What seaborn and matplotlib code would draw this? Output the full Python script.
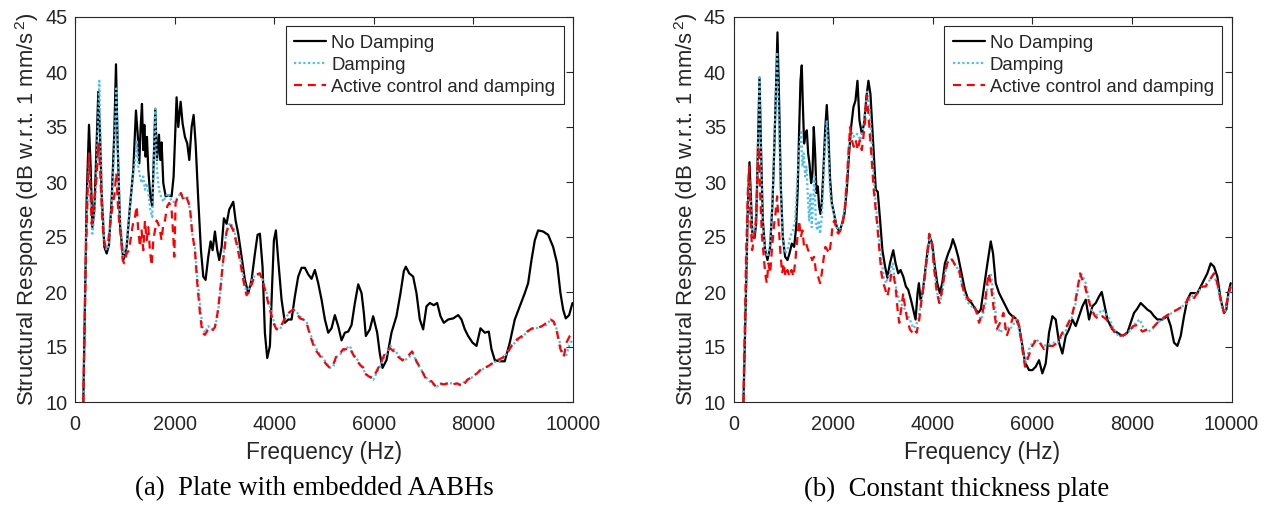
import numpy as np
import pandas as pd
import seaborn as sns
import matplotlib
matplotlib.use("Agg")
import matplotlib.pyplot as plt

# ---------------- data (Hz, dB) ----------------
a_nd = [(167,10),(234,28.4),(281,35.2),(314,31.4),(348,25.9),(388,27.4),(421,31.7),(468,38.2),(502,34.4),(535,29.0),(589,24.1),(636,23.5),(682,24.3),(736,28.4),(789,34.4),(823,40.7),(856,33.5),(903,26.2),(970,22.9),(1037,24.1),(1104,27.8),(1171,31.1),(1224,36.5),(1258,34.4),(1291,31.7),(1318,35.0),(1345,37.1),(1371,32.9),(1392,35.2),(1418,32.3),(1445,34.1),(1472,31.1),(1512,28.7),(1552,27.8),(1586,32.9),(1612,36.6),(1646,32.0),(1686,34.3),(1713,32.0),(1739,33.6),(1773,29.9),(1820,28.7),(1873,28.8),(1940,28.7),(1980,30.5),(2007,33.8),(2040,37.7),(2074,35.0),(2121,37.3),(2161,35.3),(2208,34.1),(2254,33.5),(2295,32.0),(2342,35.0),(2382,36.1),(2422,33.5),(2475,28.4),(2529,23.8),(2576,21.4),(2622,21.1),(2676,23.2),(2723,24.6),(2763,23.8),(2810,25.5),(2857,23.8),(2897,22.9),(2944,24.1),(2990,26.7),(3044,26.2),(3097,27.5),(3178,28.2),(3225,26.5),(3278,25.3),(3345,23.2),(3412,21.1),(3479,19.9),(3546,21.1),(3613,23.5),(3666,25.2),(3713,25.3),(3766,22.3),(3813,16.3),(3860,14.0),(3914,15.1),(3960,20.8),(3994,24.7),(4034,25.6),(4081,22.9),(4148,19.3),(4215,17.2),(4282,17.5),(4349,17.5),(4415,19.6),(4482,21.4),(4549,22.2),(4616,22.2),(4683,21.6),(4750,21.2),(4817,22.0),(4884,20.8),(4951,19.3),(5018,17.5),(5085,16.3),(5151,16.7),(5218,17.9),(5285,16.9),(5352,15.6),(5419,16.3),(5486,16.4),(5553,17.0),(5620,19.0),(5687,20.7),(5754,19.9),(5800,18.1),(5840,16.0),(5920,16.6),(5987,17.8),(6068,16.3),(6121,14.4),(6175,13.1),(6255,13.8),(6355,16.3),(6455,17.8),(6536,19.9),(6603,21.9),(6643,22.3),(6710,21.7),(6790,21.4),(6857,19.9),(6924,17.5),(6991,16.6),(7058,18.7),(7125,19.0),(7205,18.8),(7272,19.0),(7339,17.8),(7406,17.2),(7493,17.5),(7594,17.6),(7694,17.9),(7761,17.5),(7828,16.6),(7895,16.0),(7982,15.4),(8062,15.1),(8142,16.7),(8229,16.3),(8309,16.4),(8363,14.8),(8430,13.8),(8530,13.7),(8630,13.7),(8731,15.4),(8831,17.5),(8931,18.7),(9032,19.9),(9099,20.8),(9166,22.9),(9233,24.7),(9300,25.6),(9400,25.5),(9501,25.2),(9601,24.1),(9681,22.6),(9748,19.9),(9802,18.4),(9855,17.6),(9922,17.9),(9989,19.0)]

a_d = [(167,10),(221,25.0),(254,28.7),(281,31.7),(308,29.3),(348,25.3),(388,26.8),(428,30.5),(455,34.4),(488,39.2),(515,33.5),(549,28.1),(589,24.4),(636,23.8),(682,24.4),(736,27.8),(789,32.9),(830,38.5),(863,32.9),(903,26.8),(970,23.2),(1037,24.4),(1104,27.8),(1171,30.8),(1218,32.3),(1244,33.8),(1271,31.4),(1305,30.5),(1338,29.9),(1371,30.5),(1405,29.3),(1438,29.9),(1472,29.0),(1512,27.5),(1552,26.8),(1586,32.3),(1612,36.7),(1646,31.1),(1686,29.3),(1726,28.7),(1773,28.2),(1820,28.7),(1873,29.0),(1940,28.2),(2007,28.2),(2074,28.7),(2127,29.0),(2194,28.5),(2254,28.7),(2308,27.5),(2355,25.3),(2408,24.1),(2455,21.4),(2509,19.0),(2556,16.9),(2609,16.3),(2676,16.9),(2743,16.6),(2810,16.9),(2863,17.8),(2917,19.9),(2977,23.2),(3044,25.6),(3111,26.3),(3178,25.9),(3245,24.7),(3312,23.2),(3379,21.4),(3445,19.9),(3512,20.5),(3579,21.4),(3646,21.4),(3713,21.7),(3780,21.0),(3847,19.9),(3914,18.7),(3981,17.5),(4047,16.7),(4114,16.6),(4181,17.2),(4248,17.8),(4315,18.1),(4382,18.4),(4449,18.2),(4516,17.8),(4583,17.5),(4650,17.3),(4717,16.3),(4784,15.5),(4850,14.8),(4917,14.3),(4984,14.0),(5051,13.5),(5118,13.1),(5185,13.2),(5252,14.1),(5319,14.3),(5385,14.6),(5452,14.9),(5519,15.1),(5586,14.4),(5653,14.0),(5720,13.4),(5787,13.2),(5820,12.6),(5907,12.3),(5987,12.0),(6054,12.6),(6121,13.2),(6188,13.8),(6255,14.4),(6335,15.1),(6402,14.8),(6489,14.3),(6589,13.7),(6690,14.0),(6790,14.4),(6870,13.5),(6957,12.9),(7058,12.2),(7158,11.7),(7259,11.4),(7359,11.6),(7460,11.7),(7560,11.7),(7661,11.6),(7761,11.6),(7861,12.0),(7962,12.2),(8062,12.6),(8162,12.9),(8263,13.2),(8363,13.5),(8463,13.7),(8564,13.8),(8664,14.4),(8764,15.1),(8864,15.5),(8965,15.8),(9065,16.3),(9166,16.6),(9266,16.7),(9367,16.9),(9467,17.0),(9547,17.5),(9614,17.3),(9667,16.7),(9735,15.4),(9802,14.3),(9855,14.1),(9922,15.1),(9989,15.7)]

a_a = [(167,10),(214,22.3),(254,29.3),(281,32.6),(308,29.3),(335,26.2),(368,27.5),(401,29.0),(435,30.5),(468,33.5),(502,31.4),(535,27.8),(569,25.0),(615,24.1),(669,24.7),(723,26.8),(763,28.1),(789,28.7),(830,30.8),(856,28.4),(890,26.2),(923,25.0),(957,22.9),(990,22.6),(1037,23.5),(1084,23.8),(1124,25.0),(1164,26.2),(1204,26.8),(1238,27.8),(1271,25.6),(1305,24.1),(1338,25.6),(1371,23.8),(1405,26.5),(1438,24.7),(1472,25.9),(1505,23.8),(1539,22.4),(1572,24.7),(1606,25.6),(1639,26.5),(1673,26.2),(1706,25.6),(1739,24.7),(1773,26.2),(1806,26.5),(1853,27.8),(1893,28.1),(1940,27.5),(1974,25.0),(1994,23.2),(2020,28.1),(2074,28.7),(2127,29.0),(2174,28.4),(2228,28.7),(2275,28.2),(2308,27.7),(2355,25.3),(2408,23.8),(2455,20.8),(2509,18.1),(2556,16.3),(2609,16.1),(2676,16.6),(2743,16.4),(2810,16.8),(2863,18.1),(2917,20.2),(2977,22.9),(3044,25.5),(3111,26.2),(3178,25.6),(3245,24.4),(3312,22.9),(3379,21.1),(3445,19.7),(3512,20.2),(3579,21.1),(3646,21.6),(3713,21.7),(3780,20.8),(3847,19.6),(3914,18.4),(3981,17.2),(4047,16.6),(4114,16.7),(4181,17.3),(4248,17.9),(4315,18.2),(4382,18.4),(4449,18.1),(4516,17.6),(4583,17.5),(4650,17.2),(4717,16.1),(4784,15.2),(4850,14.6),(4917,14.2),(4984,13.8),(5051,13.4),(5118,13.1),(5185,13.4),(5252,14.2),(5319,14.4),(5385,14.8),(5452,14.8),(5519,14.9),(5586,14.3),(5653,13.8),(5720,13.4),(5787,13.1),(5820,12.6),(5907,12.3),(5987,12.2),(6068,12.9),(6155,13.7),(6242,14.6),(6322,14.9),(6402,14.6),(6489,14.1),(6576,13.8),(6670,14.1),(6770,14.6),(6857,13.7),(6957,12.9),(7058,12.0),(7158,11.9),(7245,11.4),(7326,11.7),(7406,11.6),(7493,11.7),(7580,11.6),(7674,11.7),(7781,11.4),(7875,12.0),(7975,12.3),(8075,12.6),(8176,13.1),(8276,13.2),(8376,13.5),(8477,13.8),(8577,14.0),(8677,14.4),(8778,15.2),(8878,15.7),(8978,16.0),(9079,16.4),(9179,16.7),(9280,16.7),(9380,16.9),(9467,17.2),(9547,17.5),(9614,17.3),(9681,16.3),(9748,14.8),(9815,14.1),(9869,15.4),(9935,16.0),(9989,16.3)]

b_nd = [(200,10),(254,20.5),(288,27.8),(321,31.8),(348,28.7),(381,25.0),(421,24.9),(455,26.2),(488,32.6),(522,39.5),(555,32.6),(589,26.5),(636,23.8),(682,22.9),(736,24.1),(783,28.1),(816,32.6),(850,38.0),(883,43.6),(917,37.1),(950,29.6),(990,25.0),(1037,23.2),(1084,22.9),(1124,23.5),(1171,24.4),(1218,24.1),(1258,25.9),(1291,29.6),(1318,34.7),(1345,39.2),(1371,40.6),(1392,37.1),(1418,33.5),(1445,34.4),(1472,34.7),(1499,32.6),(1525,31.7),(1559,29.9),(1586,30.8),(1612,35.0),(1639,32.6),(1666,29.0),(1693,29.6),(1719,27.8),(1746,27.1),(1773,28.1),(1806,31.1),(1840,34.7),(1873,37.0),(1907,34.1),(1940,30.2),(1974,28.1),(2020,27.1),(2074,25.9),(2127,25.5),(2174,26.1),(2228,27.1),(2275,29.3),(2321,32.6),(2362,35.0),(2408,36.8),(2449,37.4),(2489,39.2),(2529,35.6),(2576,34.4),(2622,35.3),(2669,37.7),(2709,39.2),(2750,38.0),(2790,34.7),(2823,32.0),(2857,29.3),(2897,29.1),(2944,26.5),(2990,23.8),(3044,22.3),(3091,21.3),(3141,22.6),(3208,23.8),(3255,22.6),(3308,21.7),(3355,22.0),(3409,21.4),(3462,20.5),(3509,20.2),(3563,19.3),(3609,18.4),(3656,17.5),(3696,19.9),(3723,20.8),(3756,19.3),(3797,19.9),(3843,21.7),(3890,23.5),(3944,25.0),(3990,24.4),(4044,22.3),(4091,20.8),(4144,19.9),(4191,20.8),(4245,22.6),(4311,23.5),(4365,24.1),(4405,24.8),(4458,24.1),(4512,23.2),(4579,21.7),(4646,20.2),(4713,19.3),(4780,19.0),(4847,18.5),(4913,18.1),(4965,18.4),(5032,20.5),(5099,22.6),(5166,24.6),(5212,23.5),(5266,20.8),(5333,19.9),(5400,19.3),(5466,18.7),(5533,18.1),(5600,17.8),(5667,17.6),(5734,16.9),(5801,15.1),(5854,13.6),(5935,12.9),(6001,12.9),(6068,13.2),(6135,13.8),(6202,12.6),(6269,13.5),(6336,16.3),(6403,17.8),(6470,17.5),(6537,15.4),(6604,14.4),(6671,16.0),(6738,16.6),(6805,17.5),(6872,16.9),(6939,17.8),(7006,18.7),(7073,19.3),(7140,17.5),(7207,18.7),(7274,19.0),(7341,19.6),(7394,20.0),(7441,19.0),(7508,17.5),(7608,16.6),(7709,16.3),(7809,16.0),(7909,16.3),(7976,17.2),(8043,18.1),(8110,18.5),(8177,19.0),(8244,18.7),(8311,18.4),(8378,18.2),(8445,17.8),(8512,17.5),(8612,17.5),(8712,17.8),(8779,16.9),(8846,15.4),(8913,15.1),(8980,16.0),(9047,17.8),(9114,19.3),(9181,19.9),(9248,19.9),(9315,19.9),(9381,20.5),(9448,21.1),(9515,21.7),(9582,22.6),(9649,22.3),(9716,21.4),(9783,19.3),(9850,18.1),(9896,18.4),(9937,19.9),(9984,20.8)]

b_d = [(200,10),(254,20.5),(288,27.5),(321,30.2),(348,27.8),(381,25.0),(421,25.3),(455,26.5),(488,32.0),(522,39.5),(555,32.0),(589,25.9),(636,23.8),(682,23.2),(736,24.4),(783,28.4),(816,33.2),(850,37.7),(876,41.8),(910,35.6),(950,29.0),(990,25.0),(1037,23.5),(1084,23.8),(1137,25.0),(1191,25.6),(1238,26.5),(1284,30.5),(1325,33.2),(1358,34.7),(1385,31.4),(1412,32.6),(1438,30.5),(1465,31.4),(1492,28.7),(1519,26.5),(1545,29.0),(1572,25.9),(1599,28.4),(1626,30.5),(1652,26.5),(1679,25.6),(1713,26.5),(1739,25.3),(1773,26.8),(1806,30.2),(1840,33.5),(1873,35.6),(1907,32.6),(1940,29.0),(1980,27.8),(2027,26.8),(2074,25.9),(2127,25.6),(2181,26.2),(2234,27.8),(2281,30.5),(2321,33.2),(2362,34.7),(2408,34.1),(2455,34.4),(2502,34.3),(2549,33.8),(2596,34.7),(2643,36.2),(2683,38.2),(2716,37.4),(2756,35.0),(2796,31.7),(2837,29.0),(2877,27.1),(2924,25.0),(2970,22.9),(3017,21.4),(3064,20.8),(3111,21.4),(3158,22.0),(3198,22.6),(3228,21.4),(3275,20.2),(3342,19.0),(3409,18.7),(3475,18.1),(3542,17.5),(3609,16.7),(3656,16.9),(3709,17.5),(3776,19.3),(3843,21.4),(3897,23.2),(3944,25.0),(3990,24.1),(4044,21.7),(4091,19.9),(4144,19.0),(4191,19.9),(4245,21.7),(4311,22.8),(4378,22.9),(4445,22.6),(4512,22.0),(4579,20.8),(4646,19.6),(4713,19.0),(4780,18.7),(4847,18.4),(4913,17.9),(4980,17.5),(5052,18.7),(5119,21.1),(5166,21.7),(5219,19.9),(5279,17.5),(5346,16.3),(5413,16.6),(5480,16.9),(5547,16.6),(5614,17.0),(5681,17.5),(5748,16.3),(5815,14.4),(5868,13.5),(5935,14.8),(6001,15.4),(6082,15.7),(6149,15.4),(6216,15.1),(6303,15.2),(6403,15.4),(6503,15.4),(6604,16.0),(6704,16.7),(6805,17.8),(6872,19.0),(6925,20.5),(6972,21.7),(7019,21.4),(7073,20.8),(7140,19.3),(7207,18.1),(7274,17.8),(7341,18.1),(7408,18.4),(7474,18.1),(7555,17.5),(7642,16.6),(7729,16.0),(7809,16.0),(7909,16.3),(7996,16.6),(8076,17.2),(8157,17.5),(8244,16.6),(8331,16.4),(8425,16.7),(8512,17.2),(8612,17.5),(8712,17.9),(8813,18.1),(8913,18.4),(9013,18.7),(9114,19.0),(9214,19.6),(9315,19.9),(9415,20.5),(9515,20.8),(9616,21.4),(9683,21.1),(9749,19.9),(9816,18.4),(9870,18.1),(9923,19.3),(9984,20.5)]

b_a = [(200,10),(254,23.5),(288,29.0),(314,31.4),(341,26.5),(375,23.8),(415,25.0),(448,26.5),(482,30.2),(508,33.2),(535,29.0),(569,25.3),(602,23.5),(636,21.7),(669,20.8),(702,22.6),(736,21.7),(776,24.1),(810,25.9),(843,27.1),(876,28.7),(910,25.9),(943,23.5),(977,21.7),(1010,22.6),(1044,21.4),(1084,22.0),(1124,21.4),(1164,22.0),(1204,21.4),(1244,22.9),(1284,25.0),(1318,26.5),(1351,25.0),(1385,25.6),(1418,24.1),(1458,24.4),(1499,23.8),(1539,23.5),(1579,22.9),(1619,23.2),(1659,21.7),(1699,21.4),(1739,20.8),(1773,21.7),(1806,22.9),(1846,24.1),(1887,23.8),(1927,23.5),(1960,24.7),(1994,26.2),(2027,26.5),(2067,25.6),(2107,25.3),(2147,25.6),(2194,26.2),(2241,27.8),(2281,30.5),(2315,33.2),(2342,35.0),(2375,33.8),(2415,33.2),(2455,33.8),(2495,32.9),(2536,33.8),(2576,32.9),(2609,34.1),(2643,35.6),(2676,37.9),(2709,36.2),(2743,34.1),(2776,32.0),(2810,29.6),(2850,27.8),(2890,25.9),(2930,23.8),(2970,21.7),(3010,20.8),(3051,20.2),(3091,19.6),(3131,20.5),(3174,21.8),(3221,21.4),(3261,20.2),(3295,18.4),(3328,17.2),(3375,18.7),(3409,19.9),(3442,18.7),(3489,17.5),(3542,16.6),(3596,16.3),(3643,16.6),(3676,16.3),(3730,17.5),(3776,19.3),(3843,21.4),(3890,23.5),(3930,25.3),(3977,24.7),(4024,22.3),(4077,20.2),(4131,19.0),(4178,19.9),(4231,21.4),(4291,22.6),(4345,23.1),(4398,22.9),(4463,22.3),(4530,22.0),(4597,20.5),(4664,19.6),(4730,19.3),(4797,19.1),(4864,18.4),(4931,17.2),(4998,18.1),(5066,19.6),(5119,21.7),(5166,20.8),(5219,18.7),(5286,16.6),(5353,17.2),(5420,18.1),(5487,16.0),(5554,16.9),(5621,17.8),(5688,17.8),(5748,16.6),(5801,14.8),(5854,13.2),(5921,14.1),(6001,15.1),(6082,15.7),(6149,15.4),(6236,14.8),(6323,15.1),(6416,15.1),(6503,15.4),(6604,16.3),(6704,17.0),(6791,17.8),(6858,19.0),(6905,20.2),(6959,21.7),(7006,21.1),(7059,20.5),(7126,19.3),(7193,18.4),(7260,17.8),(7341,17.5),(7408,17.8),(7488,17.5),(7575,16.9),(7655,16.3),(7742,16.0),(7842,16.1),(7943,16.4),(8023,16.9),(8110,17.0),(8210,16.4),(8311,16.6),(8411,16.7),(8512,17.2),(8612,17.6),(8712,17.9),(8813,18.2),(8913,18.4),(9013,18.7),(9093,19.1),(9160,19.6),(9227,19.3),(9315,19.9),(9402,20.5),(9482,20.5),(9562,21.1),(9649,21.7),(9716,20.8),(9783,19.3),(9850,18.1),(9917,19.3),(9984,20.5)]

series_labels = ["No Damping", "Damping", "Active control and damping"]
captions = ["(a)  Plate with embedded AABHs", "(b)  Constant thickness plate"]
x_ticks = [0, 2000, 4000, 6000, 8000, 10000]
y_ticks = [10, 15, 20, 25, 30, 35, 40, 45]

# ---------------- style ----------------
sns.set_style("white")
plt.rcParams['font.family'] = ['Liberation Sans', 'DejaVu Sans']
plt.rcParams['mathtext.fontset'] = 'custom'
plt.rcParams['mathtext.rm'] = 'Liberation Sans'
plt.rcParams['mathtext.it'] = 'Liberation Sans'

W, H = 1268, 509
fig = plt.figure(figsize=(W / 100, H / 100), dpi=100)
axL = fig.add_axes([75 / W, 1 - 402 / H, 498 / W, 385 / H])
axR = fig.add_axes([733.5 / W, 1 - 402 / H, 498 / W, 385 / H])

styles = [
    dict(color="black", linestyle="-", lw=1.6),
    dict(color="#4DBEEE", linestyle=(0, (1, 1.1)), lw=1.6),
    dict(color="#FF0000", linestyle=(0, (3.6, 2.6)), lw=1.6),
]
dark = "#262626"

for ax, curves, cap, cx in [(axL, [a_nd, a_d, a_a], captions[0], 314),
                            (axR, [b_nd, b_d, b_a], captions[1], 957)]:
    for pts, lab, st in zip(curves, series_labels, styles):
        df = pd.DataFrame(pts, columns=["f", "db"])
        sns.lineplot(data=df, x="f", y="db", ax=ax, label=lab, sort=False,
                     estimator=None, **st)
    ax.set_xlim(0, 10000)
    ax.set_ylim(10, 45)
    ax.set_xticks(x_ticks)
    ax.set_yticks(y_ticks)
    ax.tick_params(direction="in", top=True, right=True, length=5, width=0.8,
                   colors=dark, labelsize=14.3)
    ax.tick_params(axis="x", pad=9.5)
    ax.tick_params(axis="y", pad=5.5)
    for s in ax.spines.values():
        s.set_color(dark)
        s.set_linewidth(0.8)
    ax.set_xlabel("Frequency (Hz)", fontsize=16.3, color=dark, labelpad=5)
    ax.set_ylabel("Structural Response (dB w.r.t. 1 mm/s$^{\\,2}$)", fontsize=15.9,
                  color=dark, labelpad=3)
    leg = ax.legend(loc="upper right", fontsize=13.4, frameon=True, fancybox=False,
                    framealpha=1, edgecolor=dark, handlelength=1.72,
                    handletextpad=0.27, labelspacing=0.27, borderpad=0.45,
                    borderaxespad=0.5)
    leg.get_frame().set_linewidth(0.8)
    fig.text(cx / W, 1 - 489 / H, cap, ha="center", va="center", fontsize=19.3,
             family=["Liberation Serif", "DejaVu Serif"], color="black")

fig.savefig("out.png", dpi=100)
